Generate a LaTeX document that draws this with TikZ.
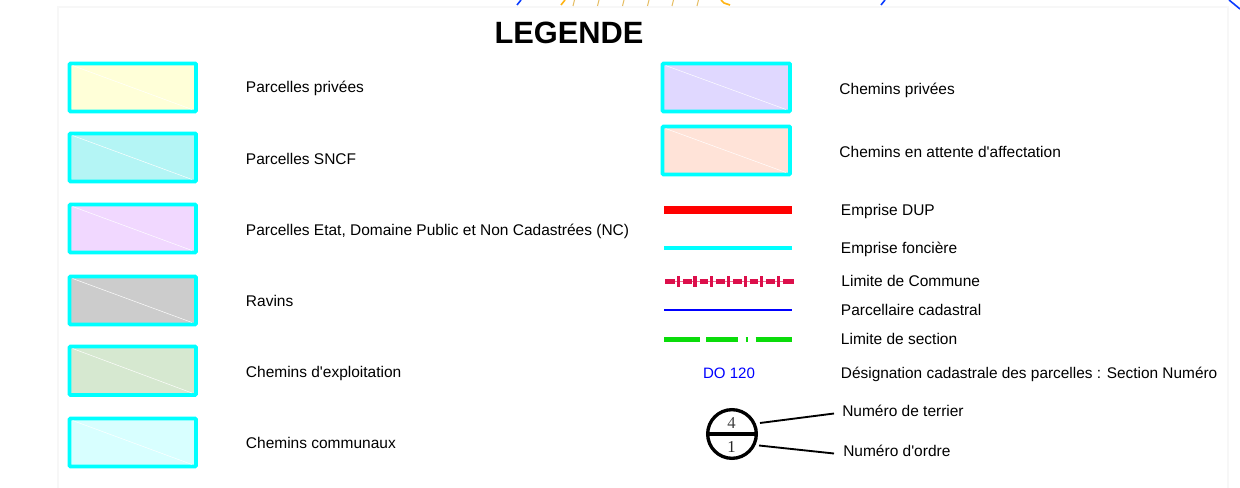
\documentclass[tikz,border=0pt]{standalone}
\usepackage{fontspec}
\newfontfamily\labfont{Liberation Sans}
\newfontfamily\serifnum{Liberation Serif}
\definecolor{cya}{HTML}{00FFFF}
\definecolor{crim}{HTML}{DC0F4B}
\definecolor{grn}{HTML}{0ADC0A}
\definecolor{orng}{HTML}{FFB414}
\definecolor{tann}{HTML}{E6BE64}
\definecolor{blu}{HTML}{0A3CFF}
\definecolor{cA}{HTML}{FFFFD8}
\definecolor{cB}{HTML}{B4F5F5}
\definecolor{cC}{HTML}{F1D8FF}
\definecolor{cD}{HTML}{CCCCCC}
\definecolor{cE}{HTML}{D6E8D0}
\definecolor{cF}{HTML}{D8FFFF}
\definecolor{cG}{HTML}{E0D8FF}
\definecolor{cH}{HTML}{FFE3D8}
\tikzset{
  x=0.75pt,y=-0.75pt,
  swatch/.style={draw=cya,line width=2.7pt,rounded corners=0.6pt},
  diag/.style={draw=white,line width=0.35pt},
  lab/.style={anchor=base west,inner sep=0pt,font=\labfont\fontsize{11.62}{14}\selectfont,text=black},
  leader/.style={draw=black,line width=1.4pt}
}
\newcommand{\swatchbox}[5]{% x1 y1 x2 y2 colour
  \path[swatch,fill=#5] (#1,#2) rectangle (#3,#4);
  \draw[diag] (#1+3,#2+2) -- (#3-4,#4-2);
}
\begin{document}
\begin{tikzpicture}
\useasboundingbox (0,0) rectangle (1240,488);
\fill[white] (0,0) rectangle (1240,488);
% frame
\draw[draw=black!3,line width=0.9pt] (58,490) -- (58,7) -- (1228,7) -- (1228,490);
% cropped fragments on top
\draw[blu,line width=1.2pt] (517,5) -- (521,0);
\draw[orng,line width=1.2pt] (561,5) -- (565,0);
\foreach \xx in {573,597.5,622.5,647.5,672,697}{\draw[tann,line width=0.8pt] (\xx,6) -- (\xx+1.5,0);}
\draw[orng,line width=1.2pt] (721,0) -- (724,3) -- (730,5);
\draw[blu,line width=1.2pt] (881,5) -- (885,0);
\draw[blu,line width=1.2pt] (1229,0) -- (1240,9);
% title
\node[inner sep=0pt,font=\labfont\fontsize{23.1}{26}\selectfont\bfseries] (title) at (569,32.5) {LEGENDE};
% swatches
\swatchbox{69.5}{63.5}{196}{111.5}{cA}
\swatchbox{69.5}{133.5}{196}{181.5}{cB}
\swatchbox{69.5}{204.5}{196}{252.5}{cC}
\swatchbox{69.5}{276.5}{196}{324.5}{cD}
\swatchbox{69.5}{346.5}{196}{395}{cE}
\swatchbox{69.5}{418.5}{196}{466.5}{cF}
\swatchbox{662.5}{63.5}{790}{111.5}{cG}
\swatchbox{662.5}{126.5}{790}{174.5}{cH}
% left labels
\node[lab] (l1) at (245.7,92.7) {Parcelles privées};
\node[lab] (l2) at (245.7,164.7) {Parcelles SNCF};
\node[lab] (l3) at (245.7,235.7) {Parcelles Etat, Domaine Public et Non Cadastrées (NC)};
\node[lab] (l4) at (245.7,306.3) {Ravins};
\node[lab] (l5) at (245.7,377.7) {Chemins d'exploitation};
\node[lab] (l6) at (245.7,448.7) {Chemins communaux};
% right labels
\node[lab] (r1) at (839.2,94.2) {Chemins privées};
\node[lab] (r2) at (839.2,157.2) {Chemins en attente d'affectation};
\node[lab] (r3) at (840.7,215.2) {Emprise DUP};
\node[lab] (r4) at (840.7,253.7) {Emprise foncière};
\node[lab] (r5) at (841.2,286.7) {Limite de Commune};
\node[lab] (r6) at (840.7,315.7) {Parcellaire cadastral};
\node[lab] (r7) at (840.7,344.7) {Limite de section};
\node[lab,font=\labfont\fontsize{11.55}{14}\selectfont] (r8) at (840.7,378.7) {Désignation cadastrale des parcelles : Section Numéro};
\node[lab] (r9) at (842,416.7) {Numéro de terrier};
\node[lab] (r10) at (843,456) {Numéro d'ordre};
\node[inner sep=0pt,font=\labfont\fontsize{11.3}{13}\selectfont,text=blue] (do) at (729,373) {DO 120};
% sample lines
\draw[red,line width=6.2pt] (664,210) -- (792,210);
\draw[cya,line width=3pt] (664,248.5) -- (792,248.5);
\draw[crim!60!white,line width=1.1pt] (665,281.5) -- (794,281.5);
\foreach \a/\b in {665/675,683/691.7,699.7/708.3,716.3/725,733/741.7,749.7/758.3,766.3/775,783/794}{
  \draw[crim,line width=3.7pt] (\a,281.5) -- (\b,281.5);}
\foreach \xx in {678.3,695,711.7,728.5,745.2,761.8,778.5}{
  \draw[crim,line width=2.5pt] (\xx,276.5) -- (\xx,287);}
\draw[blue,line width=0.8pt] (664,310) -- (792,310);
\foreach \a/\b in {664/700,706/738,745.5/747.5,755.5/792}{
  \draw[grn,line width=3.8pt] (\a,339.5) -- (\b,339.5);}
% terrier symbol
\node[circle,draw=black,line width=2.5pt,minimum size=36.5pt,inner sep=0pt] (sym) at (732,434) {};
\draw[black,line width=2.4pt] (sym.west) -- (sym.east);
\node[inner sep=0pt,font=\serifnum\fontsize{12.5}{14}\selectfont,text=black!75] (n4) at (731.5,423) {4};
\node[inner sep=0pt,font=\serifnum\fontsize{12.5}{14}\selectfont,text=black!85] (n1) at (731.5,447) {1};
\coordinate (a1) at (760,423);
\coordinate (a2) at (834,413.5);
\coordinate (b1) at (759,445.5);
\coordinate (b2) at (834,453.5);
\draw[leader] (a1) -- (a2);
\draw[leader] (b1) -- (b2);
\end{tikzpicture}
\end{document}
